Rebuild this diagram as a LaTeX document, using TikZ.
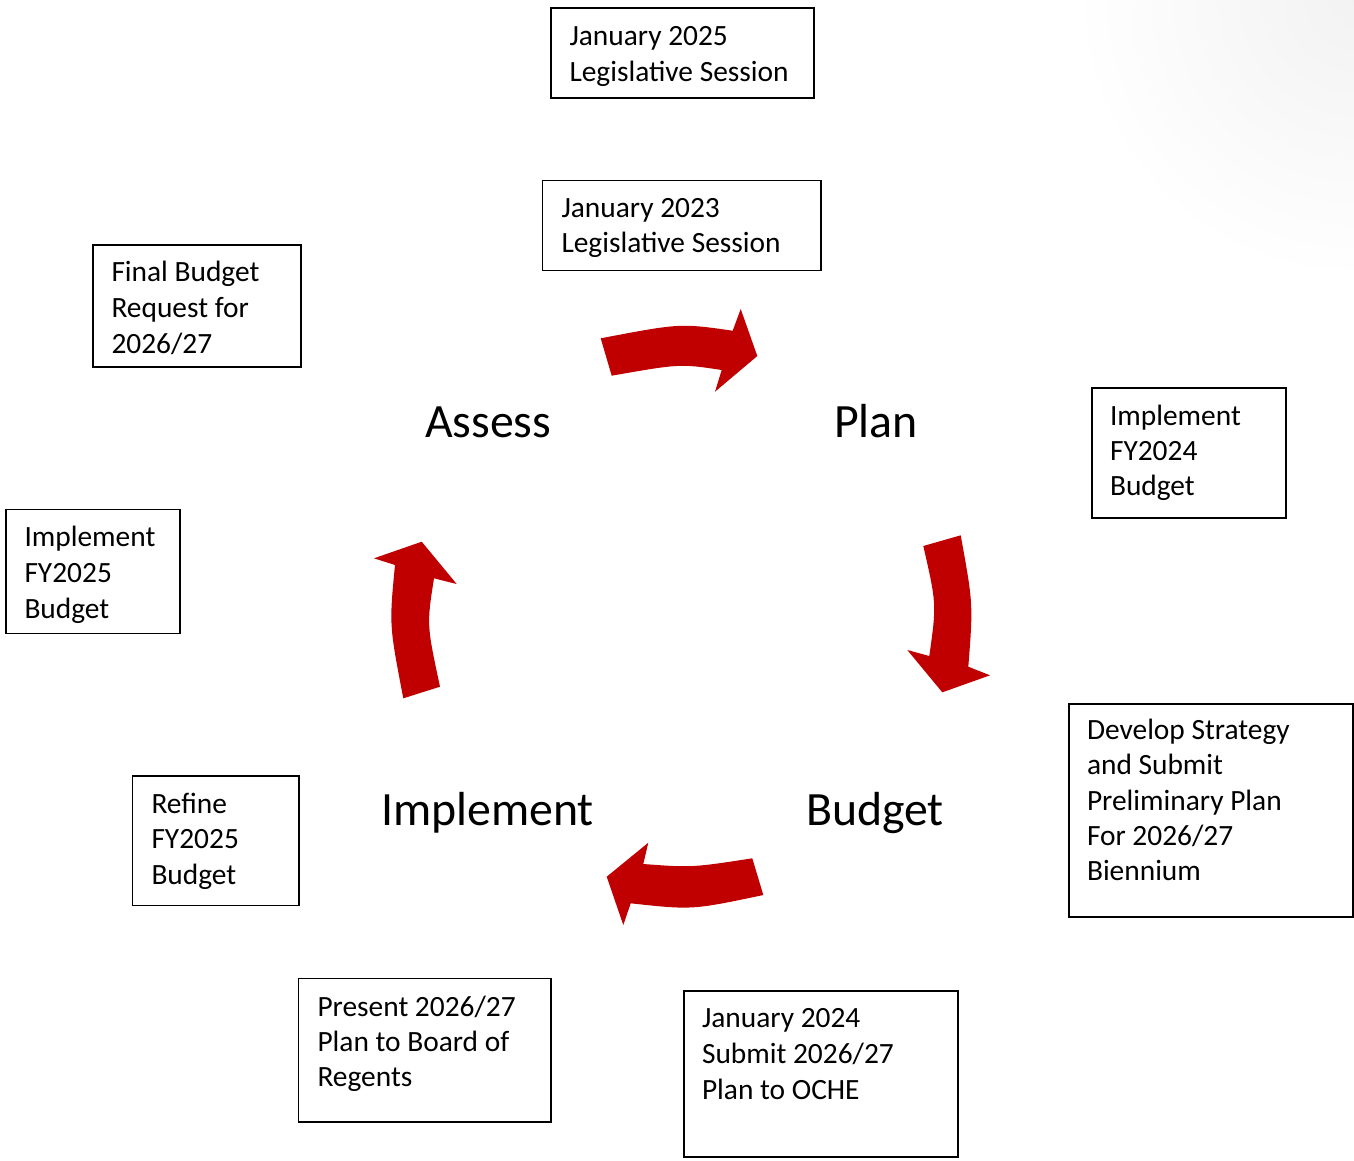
\documentclass[tikz,border=0pt]{standalone}
\usepackage{fontspec}
\setmainfont{Carlito}
\definecolor{arrowred}{HTML}{C00000}
\newcommand{\fl}{\rule{0pt}{20pt}}
\begin{document}
\begin{tikzpicture}[x=1pt,y=-1pt,
  box/.style={draw=black, line width=1.8pt, fill=white, anchor=north west, outer sep=0pt, inner sep=0pt},
  txt/.style={anchor=north west, inner sep=0pt, outer sep=0pt, align=left, font=\fontsize{29.4}{#1}\selectfont},
  txt/.default=35.8,
  big/.style={anchor=base west, inner sep=0pt, outer sep=0pt, font=\fontsize{47.8}{56}\selectfont},
  arrowshape/.style={fill=arrowred, draw=none}]
\useasboundingbox (0,0) rectangle (1354,1160);
% faint corner shading
\begin{scope}
  \clip (0,0) rectangle (1354,1160);
  \shade[inner color=black!5, outer color=white] (1354,0) circle (280);
\end{scope}

% boxes
\node[box, minimum width=263, minimum height=90]  (b1) at (551,8) {};
\node[box, minimum width=278.5, minimum height=90] (b2) at (542.5,180.5) {};
\node[box, minimum width=208, minimum height=122] (b3) at (93,245) {};
\node[box, minimum width=194, minimum height=130] (b4) at (1092,388) {};
\node[box, minimum width=174, minimum height=124] (b5) at (6,509.5) {};
\node[box, minimum width=284, minimum height=213] (b6) at (1069,704) {};
\node[box, minimum width=166.5, minimum height=129.5] (b7) at (132.5,776) {};
\node[box, minimum width=252.5, minimum height=143.5] (b8) at (298.5,978.5) {};
\node[box, minimum width=274, minimum height=166] (b9) at (684,991) {};

% box texts (first baseline = top + 20)
\node[txt=36.7] (t1) at (569.5,25) {\fl January 2025\\Legislative Session};
\node[txt=35.6] (t2) at (561.5,197) {\fl January 2023\\Legislative Session};
\node[txt=35.8] (t3) at (111.5,261) {\fl Final Budget\\Request for\\2026/27};
\node[txt=35.2] (t4) at (1110,405) {\fl Implement\\FY2024\\Budget};
\node[txt=36] (t5) at (24.5,526) {\fl Implement\\FY2025\\Budget};
\node[txt=35.3] (t6) at (1087,719) {\fl Develop Strategy\\and Submit\\Preliminary Plan\\For 2026/27\\Biennium};
\node[txt=35.8] (t7) at (151.5,792.7) {\fl Refine\\FY2025\\Budget};
\node[txt=35.2] (t8) at (317.5,995.7) {\fl Present 2026/27\\Plan to Board of\\Regents};
\node[txt=35.8] (t9) at (702,1007.7) {\fl January 2024\\Submit 2026/27\\Plan to OCHE};

% cycle labels
\node[big] (assess) at (425,437) {Assess};
\node[big] (plan) at (834,437) {Plan};
\node[big] (implement) at (381,825) {Implement};
\node[big] (budget) at (806,825) {Budget};

% curved arrows
\fill[arrowshape] (600.7,338.3) .. controls (680,323.2) .. (732.7,330.7)
  -- (740.7,309) -- (757.3,356) -- (715,391.7) -- (721.7,370)
  .. controls (680,363.7) .. (611.7,375.7) -- cycle;
\fill[arrowshape] (923.3,546) -- (960.7,535.3) .. controls (973.2,604.1) .. (968.3,666.7)
  -- (990,675.3) -- (942.3,692.3) -- (907.3,650) -- (929.3,656)
  .. controls (936.6,604.1) .. (923.3,546) -- cycle;
\fill[arrowshape] (752.3,858.3) -- (763.3,895) .. controls (692.1,910) .. (630.7,903.3)
  -- (623.3,925) -- (606.7,876.7) -- (648.3,842.7) -- (643.3,864)
  .. controls (691.8,867.6) .. (752.3,858.3) -- cycle;
\fill[arrowshape] (403.3,698.3) -- (440,686.7) .. controls (426.7,624.8) .. (434,578.3)
  -- (456.7,584) -- (421.7,541.7) -- (374,558.3) -- (395,565)
  .. controls (389.2,625) .. (403.3,698.3) -- cycle;
\end{tikzpicture}
\end{document}
